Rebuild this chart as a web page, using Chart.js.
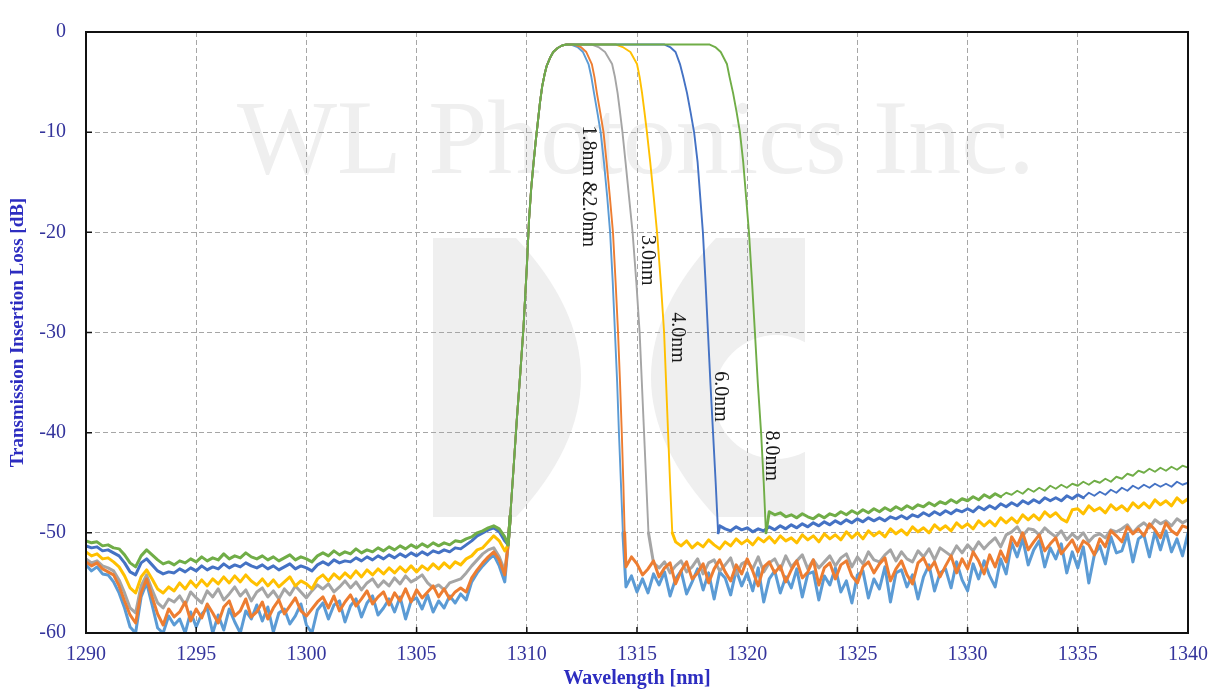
<!DOCTYPE html>
<html><head><meta charset="utf-8">
<script src="https://cdn.jsdelivr.net/npm/chart.js@4/dist/chart.umd.min.js"></script>
<style>html,body{margin:0;padding:0;background:#fff;overflow:hidden}</style>
</head><body>
<canvas id="c" width="1218" height="694"></canvas>
<script>
const N = null;
// Sampled wavelength grid (nm)
const wavelengths = [
1290,1290.25,1290.5,1290.75,1291,1291.25,1291.5,1291.75,1292,1292.25,1292.5,1292.75,1293,1293.25,1293.5,1293.75,1294,1294.25,1294.5,1294.75,
1295,1295.25,1295.5,1295.75,1296,1296.25,1296.5,1296.75,1297,1297.25,1297.5,1297.75,1298,1298.25,1298.5,1298.75,1299,1299.25,1299.5,1299.75,
1300,1300.25,1300.5,1300.75,1301,1301.25,1301.5,1301.75,1302,1302.25,1302.5,1302.75,1303,1303.25,1303.5,1303.75,1304,1304.25,1304.5,1304.75,
1305,1305.25,1305.5,1305.75,1306,1306.25,1306.5,1306.75,1307,1307.25,1307.5,1307.75,1308,1308.25,1308.5,1308.75,1309,1309.25,1309.5,1309.75,
1310,1310.25,1310.5,1310.75,1311,1311.25,1311.5,1311.75,1312,1312.25,1312.5,1312.75,1313,1313.25,1313.5,1313.75,1314,1314.25,1314.5,1314.75,
1315,1315.25,1315.5,1315.75,1316,1316.25,1316.5,1316.75,1317,1317.25,1317.5,1317.75,1318,1318.25,1318.5,1318.75,1319,1319.25,1319.5,1319.75,
1320,1320.25,1320.5,1320.75,1321,1321.25,1321.5,1321.75,1322,1322.25,1322.5,1322.75,1323,1323.25,1323.5,1323.75,1324,1324.25,1324.5,1324.75,
1325,1325.25,1325.5,1325.75,1326,1326.25,1326.5,1326.75,1327,1327.25,1327.5,1327.75,1328,1328.25,1328.5,1328.75,1329,1329.25,1329.5,1329.75,
1330,1330.25,1330.5,1330.75,1331,1331.25,1331.5,1331.75,1332,1332.25,1332.5,1332.75,1333,1333.25,1333.5,1333.75,1334,1334.25,1334.5,1334.75,
1335,1335.25,1335.5,1335.75,1336,1336.25,1336.5,1336.75,1337,1337.25,1337.5,1337.75,1338,1338.25,1338.5,1338.75,1339,1339.25,1339.5,1339.75,
1340];

// Out-of-band (noise floor) values in dB on the grid; null = inside passband
const floor80 = [
-50.8,-51.0,-50.9,-51.3,-51.2,-51.5,-51.6,-52.2,-53.0,-53.4,-52.3,-51.7,-52.2,-52.7,-53.1,-52.9,-53.2,-52.8,-53.0,-52.6,
-52.9,-52.4,-52.8,-52.5,-52.7,-52.1,-52.6,-52.3,-52.5,-52.0,-52.4,-52.6,-52.3,-52.7,-52.4,-52.8,-52.5,-52.2,-52.7,-52.4,
-52.6,-52.9,-52.3,-52.0,-52.3,-51.8,-52.2,-51.9,-52.1,-51.6,-52.0,-51.7,-51.9,-51.5,-51.8,-51.4,-51.7,-51.3,-51.6,-51.2,
-51.5,-51.1,-51.4,-51.0,-51.3,-51.0,-51.2,-50.8,-50.9,-50.6,-50.4,-50.0,-49.8,-49.5,-49.3,-49.6,-50.4,
N,N,N,N,N,N,N,N,N,N,N,N,N,N,N,N,N,N,N,N,N,N,N,N,N,N,N,N,N,N,N,N,N,N,N,N,N,N,N,N,N,N,N,N,N,N,N,
-47.9,-48.2,-48.0,-48.4,-48.2,-48.5,-48.1,-48.4,-48.6,-48.2,-48.5,-48.1,-48.3,-47.9,-48.2,-47.8,-48.1,-47.7,-48.0,-47.6,
-47.9,-47.5,-47.8,-47.4,-47.7,-47.3,-47.6,-47.2,-47.4,-47.0,-47.3,-46.9,-47.1,-46.7,-47.0,-46.6,-46.8,-46.4,-46.7,-46.2,
-46.5,-46.1,-46.4,-46.0,-46.2,-45.8,-46.1,-45.6,-45.9,-45.5,-45.8,-45.3,-45.6,-45.2,-45.5,-45.1,-45.3,-44.9,-45.2,-44.8,
-45.0,-44.6,-44.9,-44.4,-44.6,-44.1,-44.3,-43.8,-44.0,-43.6,-43.9,-43.5,-43.8,-43.4,-43.7,-43.3,-43.5];

const floor60 = [
-51.3,-51.5,-51.4,-51.8,-51.7,-52.0,-52.3,-53.0,-53.9,-54.2,-53.0,-52.6,-53.2,-53.8,-54.1,-53.9,-54.0,-53.6,-53.9,-53.5,
-53.8,-53.3,-53.7,-53.4,-53.6,-53.1,-53.5,-53.2,-53.4,-53.0,-53.3,-53.5,-53.2,-53.6,-53.3,-53.7,-53.4,-53.1,-53.6,-53.3,
-53.5,-53.8,-53.2,-52.9,-53.2,-52.7,-53.0,-52.8,-52.9,-52.5,-52.8,-52.4,-52.7,-52.3,-52.6,-52.2,-52.5,-52.1,-52.4,-52.0,
-52.3,-51.9,-52.2,-51.8,-52.0,-51.7,-51.9,-51.5,-51.6,-51.2,-50.8,-50.3,-50.0,-49.7,-49.5,-49.9,-50.8,
N,N,N,N,N,N,N,N,N,N,N,N,N,N,N,N,N,N,N,N,N,N,N,N,N,N,N,N,N,N,N,N,N,N,N,N,N,N,
-49.3,
-49.6,-49.8,-49.4,-49.7,-49.5,-49.9,-49.6,-49.8,-49.4,-49.7,-49.3,-49.6,-49.2,-49.5,-49.1,-49.4,-49.0,-49.3,-48.9,-49.2,
-48.8,-49.1,-48.7,-49.0,-48.6,-48.9,-48.5,-48.8,-48.5,-48.8,-48.4,-48.6,-48.3,-48.6,-48.2,-48.4,-48.0,-48.3,-47.9,-48.2,
-47.8,-48.1,-47.7,-47.9,-47.6,-47.9,-47.4,-47.7,-47.3,-47.6,-47.1,-47.4,-47.0,-47.3,-46.8,-47.1,-46.7,-47.0,-46.5,-46.8,
-46.5,-46.8,-46.3,-46.6,-46.2,-46.5,-46.0,-46.3,-45.9,-46.2,-45.7,-46.0,-45.5,-45.8,-45.3,-45.6,-45.2,-45.5,-45.1,-45.4,
-45.1,-45.4,-44.9,-45.2,-45.0];

const floor40 = [
-51.9,-52.3,-52.1,-52.6,-52.5,-52.9,-53.4,-54.3,-55.5,-56.0,-54.4,-53.7,-54.6,-55.6,-56.0,-55.4,-55.8,-55.0,-55.6,-54.8,
-55.4,-54.7,-55.3,-54.6,-55.1,-54.4,-55.0,-54.3,-54.9,-54.2,-54.8,-55.2,-54.6,-55.3,-54.7,-55.4,-54.9,-54.4,-55.3,-54.8,
-55.1,-55.6,-54.6,-54.2,-54.8,-54.1,-54.6,-54.0,-54.5,-53.8,-54.4,-53.7,-54.2,-53.6,-54.1,-53.5,-54.0,-53.4,-53.9,-53.3,
-53.9,-53.3,-53.7,-53.1,-53.6,-53.0,-53.5,-52.9,-53.2,-52.6,-52.3,-51.7,-51.5,-50.9,-50.3,-50.8,-51.8,
N,N,N,N,N,N,N,N,N,N,N,N,N,N,N,N,N,N,N,N,N,N,N,N,N,N,N,N,N,N,
-50.9,
-51.3,-50.8,-51.5,-51.0,-51.4,-50.7,-51.2,-51.6,-50.9,-51.3,-50.6,-51.1,-50.7,-51.2,-50.5,-50.9,-50.4,-51.0,-50.3,-50.8,
-50.5,-51.0,-50.2,-50.7,-50.3,-50.9,-50.1,-50.6,-50.2,-50.7,-49.9,-50.5,-50.0,-50.6,-49.8,-50.3,-49.9,-50.4,-49.6,-50.1,
-49.7,-50.2,-49.4,-49.9,-49.5,-50.0,-49.2,-49.7,-49.3,-49.8,-49.0,-49.5,-49.1,-49.6,-48.8,-49.3,-48.8,-49.3,-48.5,-49.0,
-48.5,-49.0,-48.2,-48.7,-48.2,-48.7,-47.9,-48.4,-48.0,-48.6,-48.9,-47.7,-47.6,-48.1,-47.3,-47.8,-47.5,-48.0,-47.2,-47.7,
-47.3,-47.8,-47.0,-47.5,-47.0,-47.5,-46.7,-47.2,-46.8,-47.3,-46.5,-47.0,-46.6];

const floor30 = [
-52.6,-53.0,-52.8,-53.3,-53.5,-53.8,-54.7,-56.0,-57.5,-58.0,-55.3,-54.2,-55.7,-57.0,-57.5,-56.6,-56.9,-56.3,-57.2,-55.9,
-56.5,-57.0,-55.8,-56.4,-55.6,-56.7,-56.1,-55.4,-56.3,-55.7,-56.8,-55.9,-55.5,-56.4,-55.8,-56.6,-55.6,-56.2,-55.3,-55.9,
-56.5,-55.8,-55.2,-55.6,-55.1,-55.9,-55.4,-54.8,-55.5,-54.9,-55.7,-55.0,-54.6,-55.4,-54.8,-55.3,-54.5,-55.1,-54.3,-54.9,
-54.6,-54.2,-55.0,-55.5,-55.2,-55.7,-55.0,-54.8,-54.6,-54.0,-53.3,-52.7,-52.1,-51.7,-51.5,-52.4,-53.8,
N,N,N,N,N,N,N,N,N,N,N,N,N,N,N,N,N,N,N,N,N,N,N,N,N,N,
-53.0,
-53.5,-52.9,-54.0,-53.3,-52.8,-53.9,-53.4,-52.6,-54.1,-53.0,-52.7,-53.8,-53.2,-52.5,-54.2,-53.1,-52.8,-53.6,-52.4,-53.9,
-53.0,-52.6,-53.7,-52.3,-53.4,-52.8,-52.2,-53.6,-52.7,-53.5,-52.9,-52.3,-53.3,-52.5,-52.1,-53.4,-52.4,-53.1,-51.9,-52.7,
-52.9,-52.2,-51.7,-52.8,-51.9,-52.6,-52.9,-51.8,-52.4,-51.6,-52.7,-51.5,-51.9,-52.3,-51.3,-52.0,-51.2,-51.8,-50.9,-51.6,
-51.0,-50.5,-51.4,-50.2,-49.9,-49.4,-50.3,-49.6,-49.7,-50.2,-49.5,-50.0,-50.4,-49.8,-50.7,-50.1,-50.6,-50.0,-50.9,-50.3,
-50.1,-50.5,-49.7,-49.9,-49.6,-49.2,-50.0,-49.4,-49.0,-49.5,-48.7,-49.1,-48.8,-49.3,-48.6,-49.0,-48.7];

const floor20 = [
-52.9,-53.3,-53.0,-53.6,-53.9,-54.2,-55.3,-56.8,-58.2,-59.0,-56.0,-54.6,-56.4,-58.1,-59.2,-57.6,-58.4,-57.9,-56.9,-58.8,
-57.6,-58.5,-57.1,-58.0,-59.0,-57.4,-56.8,-58.3,-57.8,-56.6,-58.4,-57.9,-56.9,-58.6,-57.5,-56.7,-58.1,-57.3,-56.5,-57.8,
-58.3,-57.6,-56.9,-56.4,-57.5,-56.3,-57.8,-56.9,-56.2,-57.3,-56.6,-55.8,-57.1,-56.4,-55.9,-57.2,-56.0,-56.8,-55.6,-56.9,
-55.7,-56.5,-55.9,-55.3,-56.4,-55.6,-56.6,-55.9,-55.5,-55.9,-54.5,-53.7,-53.0,-52.4,-51.9,-52.7,-54.2,
N,N,N,N,N,N,N,N,N,N,N,N,N,N,N,N,N,N,N,N,N,
-53.4,-52.4,
-53.1,-54.2,-53.6,-52.8,-54.4,-53.5,-53.0,-55.1,-53.8,-52.9,-54.6,-54.0,-53.1,-55.0,-53.6,-52.7,-53.9,-54.8,-53.2,-54.1,
-52.6,-53.8,-55.3,-53.4,-52.9,-54.0,-53.3,-54.9,-53.7,-52.8,-54.5,-53.9,-52.7,-55.2,-53.5,-53.0,-54.6,-53.2,-52.8,-54.3,
-55.0,-53.4,-52.9,-54.0,-53.1,-52.5,-54.8,-53.6,-52.8,-54.2,-55.1,-53.0,-52.5,-53.7,-52.9,-54.4,-53.3,-52.3,-54.0,-52.6,
-53.6,-51.9,-52.8,-54.1,-52.2,-53.4,-51.8,-52.9,-50.4,-51.3,-50.0,-51.7,-50.9,-50.2,-51.8,-51.1,-50.5,-52.1,-51.4,-50.7,
-51.9,-50.8,-51.2,-52.2,-50.6,-51.4,-49.8,-50.3,-50.9,-49.4,-50.1,-49.6,-50.3,-49.1,-49.7,-50.5,-49.0,-49.8,-50.2,-49.3,
-49.5];

const floor18 = [
-53.2,-53.8,-53.4,-54.1,-54.2,-54.9,-56.0,-57.5,-59.4,-60.0,-56.4,-55.0,-57.2,-59.5,-60.0,-58.3,-59.2,-58.6,-60.0,-57.9,
-59.4,-58.1,-57.5,-60.0,-58.2,-59.7,-57.6,-58.9,-60.0,-57.8,-58.6,-57.2,-58.8,-57.4,-59.9,-58.0,-57.6,-59.1,-58.3,-57.1,
-59.2,-60.0,-57.7,-57.0,-58.6,-57.2,-56.8,-58.9,-57.3,-56.6,-58.4,-57.0,-56.3,-58.2,-57.5,-56.6,-57.9,-56.4,-58.6,-56.8,
-56.5,-57.6,-56.2,-57.9,-56.8,-57.5,-56.3,-57.0,-56.1,-56.7,-54.9,-54.0,-53.3,-52.7,-52.2,-53.3,-54.9,
N,N,N,N,N,N,N,N,N,N,N,N,N,N,N,N,N,N,N,N,N,
-55.4,-54.3,
-55.9,-54.6,-56.0,-54.1,-55.2,-53.9,-56.3,-54.6,-53.8,-56.1,-54.9,-53.6,-55.7,-54.0,-56.6,-53.9,-54.5,-56.2,-53.7,-55.3,
-54.0,-55.8,-53.5,-56.9,-54.6,-53.8,-56.0,-54.4,-55.5,-53.6,-56.4,-54.1,-53.9,-56.7,-54.3,-55.2,-53.5,-55.9,-54.8,-57.0,
-54.2,-53.8,-56.5,-54.6,-55.6,-53.4,-56.9,-54.0,-53.7,-55.4,-54.2,-56.6,-54.4,-53.2,-55.8,-54.0,-53.6,-55.5,-52.9,-54.7,
-55.8,-53.1,-54.6,-52.8,-54.3,-55.4,-52.6,-54.1,-51.0,-52.4,-50.6,-53.2,-51.7,-50.8,-53.4,-51.5,-52.6,-51.1,-54.0,-51.9,
-53.5,-51.4,-55.0,-52.2,-51.3,-53.1,-50.4,-52.0,-51.8,-50.1,-52.9,-50.6,-50.2,-52.4,-49.9,-51.7,-49.8,-51.9,-50.6,-52.3,
-50.0];

// Common rising edge (all filters share it)
const riseWl = [1309.15,1309.25,1309.4,1309.55,1309.7,1309.85,1310.0,1310.1,1310.2,1310.3,1310.4,1310.5,1310.6,1310.7,1310.8,1310.9,1311.05,1311.2,1311.4,1311.6,1311.8];
const riseDb = [-51.2,-48.3,-43.5,-38.6,-34.2,-29.5,-23.5,-18.8,-15.6,-13.2,-11.0,-9.0,-7.0,-5.4,-4.3,-3.4,-2.6,-2.0,-1.6,-1.35,-1.25];

// Falling edges: dB levels and the wavelength where each filter reaches them
const fallDb = [-1.25,-1.5,-2.0,-3.2,-4.5,-6.1,-8.0,-10,-13,-16.5,-20,-25,-30,-35,-40,-45,-50];
const fall18 = [1312.0,1312.3,1312.55,1312.8,1312.93,1313.05,1313.2,1313.35,1313.5,1313.65,1313.78,1313.9,1314.0,1314.1,1314.18,1314.27,1314.36];
const fall20 = [1312.15,1312.45,1312.7,1312.95,1313.07,1313.18,1313.33,1313.48,1313.62,1313.77,1313.91,1314.03,1314.14,1314.23,1314.31,1314.38,1314.44];
const fall30 = [1312.95,1313.25,1313.55,1313.87,1314.0,1314.12,1314.23,1314.34,1314.48,1314.64,1314.8,1314.97,1315.12,1315.22,1315.32,1315.42,1315.52];
const fall40 = [1314.05,1314.35,1314.7,1315.0,1315.12,1315.23,1315.34,1315.45,1315.6,1315.76,1315.91,1316.08,1316.23,1316.32,1316.41,1316.5,1316.6];
const fall60 = [1316.25,1316.5,1316.75,1316.95,1317.1,1317.27,1317.43,1317.59,1317.75,1317.87,1317.99,1318.11,1318.22,1318.33,1318.45,1318.57,1318.68];
const fall80 = [1318.3,1318.55,1318.8,1319.08,1319.2,1319.36,1319.52,1319.67,1319.82,1319.95,1320.08,1320.22,1320.35,1320.48,1320.63,1320.75,1320.85];

const seriesNames = ['8.0nm','6.0nm','4.0nm','2.0nm','3.0nm','1.8nm'];
const seriesColors = ['#70AD47','#4472C4','#FFC000','#ED7D31','#A5A5A5','#5B9BD5'];
const seriesFloors = [floor80, floor60, floor40, floor20, floor30, floor18];
const seriesFalls = [fall80, fall60, fall40, fall20, fall30, fall18];

const xTickValues = [1290,1295,1300,1305,1310,1315,1320,1325,1330,1335,1340];
const yTickValues = [0,-10,-20,-30,-40,-50,-60];

const labelText = ['1.8nm &2.0nm','3.0nm','4.0nm','6.0nm','8.0nm'];
const labelWl = [1312.78,1315.45,1316.82,1318.77,1321.08];
const labelDb = [-15.4,-22.8,-30.5,-36.4,-42.3];

function buildPoints(floor, fallWl) {
  const pts = [];
  floor.forEach((v, i) => { if (v !== null) pts.push({x: wavelengths[i], y: v}); });
  riseWl.forEach((w, i) => pts.push({x: w, y: riseDb[i]}));
  fallWl.forEach((w, i) => pts.push({x: w, y: fallDb[i]}));
  pts.sort((a, b) => a.x - b.x);
  return pts;
}

const datasets = seriesNames.map((n, k) => ({
  label: n,
  data: buildPoints(seriesFloors[k], seriesFalls[k]),
  borderColor: seriesColors[k],
  backgroundColor: seriesColors[k],
  borderWidth: 2,
  pointRadius: 0,
  tension: 0,
  fill: false,
  borderJoinStyle: 'round',
  borderCapStyle: 'round',
  segment: {
    borderWidth: c => (c.p0.parsed.y < -46 && c.p1.parsed.y < -46) ? 3 : 1.9
  }
}));

const deco = {
  id: 'deco',
  beforeDraw(chart) {
    const {ctx, chartArea: a} = chart;
    ctx.save();
    ctx.fillStyle = '#ffffff';
    ctx.fillRect(0, 0, chart.width, chart.height);
    // faint logo
    ctx.fillStyle = '#efefef';
    const L = a.left, T = a.top;
    ctx.beginPath();
    ctx.moveTo(L + 347, T + 206);
    ctx.lineTo(L + 430, T + 206);
    ctx.quadraticCurveTo(L + 560, T + 345, L + 430, T + 485);
    ctx.lineTo(L + 347, T + 485);
    ctx.closePath();
    ctx.fill();
    ctx.beginPath();
    ctx.moveTo(L + 719, T + 206);
    ctx.lineTo(L + 630, T + 206);
    ctx.quadraticCurveTo(L + 500, T + 345, L + 630, T + 485);
    ctx.lineTo(L + 719, T + 485);
    ctx.closePath();
    ctx.fill();
    ctx.fillStyle = '#ffffff';
    ctx.beginPath();
    ctx.arc(L + 690, T + 365, 62, 0, Math.PI * 2);
    ctx.fill();
    // watermark text
    ctx.fillStyle = '#efefef';
    ctx.font = '106px "Liberation Serif"';
    ctx.textBaseline = 'alphabetic';
    ctx.textAlign = 'left';
    ctx.fillText('WL Photonics Inc.', L + 151, T + 141);
    ctx.restore();
  },
  afterDatasetsDraw(chart) {
    const {ctx, scales: {x, y}} = chart;
    ctx.save();
    ctx.fillStyle = '#1a1a1a';
    ctx.font = '20px "Liberation Serif"';
    ctx.textAlign = 'center';
    ctx.textBaseline = 'middle';
    labelText.forEach((t, i) => {
      ctx.save();
      ctx.translate(x.getPixelForValue(labelWl[i]), y.getPixelForValue(labelDb[i]));
      ctx.rotate(Math.PI / 2);
      ctx.fillText(t, 0, 0);
      ctx.restore();
    });
    ctx.restore();
  },
  afterDraw(chart) {
    const {ctx, chartArea: a, scales: {x, y}} = chart;
    ctx.save();
    ctx.strokeStyle = '#111';
    ctx.lineWidth = 1.5;
    ctx.beginPath();
    yTickValues.forEach(v => { const py = y.getPixelForValue(v); ctx.moveTo(a.left, py); ctx.lineTo(a.left + 6, py); });
    xTickValues.forEach(v => { const px = x.getPixelForValue(v); ctx.moveTo(px, a.bottom); ctx.lineTo(px, a.bottom - 6); });
    ctx.stroke();
    ctx.lineWidth = 2;
    ctx.strokeRect(a.left, a.top, a.right - a.left, a.bottom - a.top);
    ctx.restore();
  }
};

new Chart(document.getElementById('c'), {
  type: 'line',
  data: {datasets},
  plugins: [deco],
  options: {
    responsive: false,
    animation: false,
    devicePixelRatio: 1,
    layout: {padding: {top: 17, right: 30, left: 0, bottom: 0}},
    plugins: {legend: {display: false}, tooltip: {enabled: false}},
    scales: {
      x: {
        type: 'linear', min: 1290, max: 1340,
        afterBuildTicks: s => { s.ticks = xTickValues.map(v => ({value: v})); },
        afterFit: s => { s.height = 61; },
        ticks: {color: '#34349c', font: {family: 'Liberation Serif', size: 20}, padding: 10, callback: v => String(v), maxRotation: 0},
        grid: {color: '#a6a6a6', lineWidth: 1, drawTicks: false},
        border: {display: true, color: '#111', width: 2, dash: [5, 3]},
        title: {display: true, text: 'Wavelength [nm]', color: '#2d2dc0', font: {family: 'Liberation Serif', size: 20, weight: 'bold'}, padding: {top: 0, bottom: 3}}
      },
      y: {
        type: 'linear', min: -60, max: 0,
        afterBuildTicks: s => { s.ticks = yTickValues.map(v => ({value: v})); },
        afterFit: s => { s.width = 86; },
        ticks: {color: '#34349c', font: {family: 'Liberation Serif', size: 20}, padding: 20, callback: v => String(v)},
        grid: {color: '#a6a6a6', lineWidth: 1, drawTicks: false},
        border: {display: true, color: '#111', width: 2, dash: [5, 3]},
        title: {display: true, text: 'Transmission Insertion Loss [dB]', color: '#2d2dc0', font: {family: 'Liberation Serif', size: 19, weight: 'bold'}, padding: {top: 7, bottom: 0}}
      }
    }
  }
});
</script>
</body></html>
